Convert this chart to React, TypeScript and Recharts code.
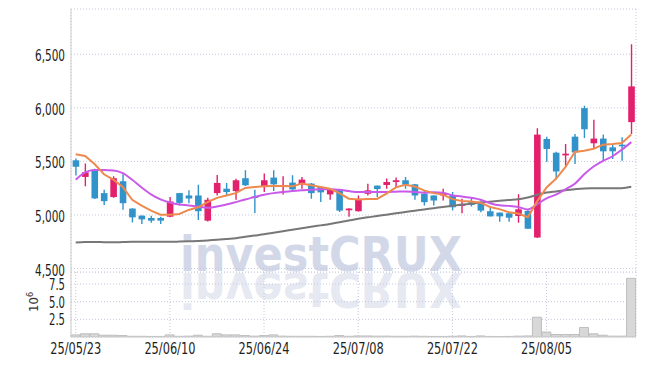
import { ComposedChart, Bar, Line, XAxis, YAxis, CartesianGrid } from "recharts";

const dates = [
  "25/05/23", "25/05/26", "25/05/27", "25/05/28", "25/05/29", "25/05/30",
  "25/06/02", "25/06/04", "25/06/05", "25/06/09", "25/06/10", "25/06/11",
  "25/06/12", "25/06/13", "25/06/16", "25/06/17", "25/06/18", "25/06/19",
  "25/06/20", "25/06/23", "25/06/24", "25/06/25", "25/06/26", "25/06/27",
  "25/06/30", "25/07/01", "25/07/02", "25/07/03", "25/07/04", "25/07/07",
  "25/07/08", "25/07/09", "25/07/10", "25/07/11", "25/07/14", "25/07/15",
  "25/07/16", "25/07/17", "25/07/18", "25/07/21", "25/07/22", "25/07/23",
  "25/07/24", "25/07/25", "25/07/28", "25/07/29", "25/07/30", "25/07/31",
  "25/08/01", "25/08/04", "25/08/05", "25/08/06", "25/08/07", "25/08/08",
  "25/08/11", "25/08/12", "25/08/13", "25/08/14", "25/08/18", "25/08/19",
];

const tickDates = ["25/05/23", "25/06/10", "25/06/24", "25/07/08", "25/07/22", "25/08/05"];

const opens = [
  5510, 5355, 5425, 5204, 5167, 5315, 5060, 4994, 4972, 4972,
  4984, 5204, 5182, 5182, 4947, 5204, 5245, 5223, 5343, 5173,
  5261, 5349, 5261, 5302, 5286, 5293, 5261, 5192, 5239, 5044,
  5035, 5198, 5274, 5280, 5308, 5324, 5286, 5198, 5182, 5182,
  5182, 5085, 5120, 5120, 5035, 5022, 5016, 4991, 5038, 4790,
  5709, 5581, 5556, 5731, 5997, 5669, 5713, 5631, 5656, 5866,
];
const highs = [
  5528, 5481, 5432, 5236, 5362, 5380, 5062, 4996, 4994, 4984,
  5167, 5206, 5230, 5283, 5160, 5374, 5299, 5337, 5418, 5236,
  5387, 5418, 5362, 5371, 5355, 5299, 5270, 5245, 5241, 5063,
  5182, 5292, 5276, 5340, 5349, 5355, 5288, 5230, 5184, 5245,
  5214, 5151, 5167, 5129, 5079, 5024, 5018, 5194, 5044, 5809,
  5731, 5591, 5663, 5756, 6019, 5888, 5750, 5653, 5725, 6594,
];
const lows = [
  5369, 5267, 5150, 5094, 5160, 5050, 4931, 4915, 4928, 4915,
  4980, 5088, 5110, 4953, 4940, 5182, 5176, 5142, 5270, 5019,
  5214, 5223, 5192, 5230, 5245, 5151, 5120, 5142, 5028, 4984,
  5033, 5182, 5167, 5245, 5261, 5245, 5142, 5088, 5088, 5135,
  5041, 5016, 5079, 5025, 4985, 4937, 4937, 4928, 4870, 4785,
  5497, 5334, 5459, 5475, 5719, 5625, 5500, 5522, 5506, 5756,
];
const closes = [
  5450, 5399, 5155, 5129, 5343, 5110, 4978, 4959, 4947, 4947,
  5126, 5113, 5154, 5035, 5142, 5299, 5214, 5324, 5277, 5164,
  5324, 5286, 5277, 5239, 5330, 5204, 5211, 5236, 5041, 5060,
  5151, 5230, 5242, 5308, 5324, 5283, 5182, 5120, 5135, 5204,
  5072, 5104, 5094, 5041, 4987, 4987, 4975, 5053, 4872, 5750,
  5616, 5406, 5572, 5584, 5800, 5713, 5594, 5594, 5641, 6200,
];

// volume in millions of shares
const volumes = [
  0.3, 0.45, 0.45, 0.25, 0.25, 0.2, 0.1, 0.1, 0.08, 0.08,
  0.3, 0.1, 0.12, 0.25, 0.1, 0.45, 0.3, 0.3, 0.2, 0.12,
  0.2, 0.3, 0.12, 0.1, 0.1, 0.1, 0.08, 0.1, 0.2, 0.1,
  0.15, 0.15, 0.12, 0.12, 0.1, 0.1, 0.12, 0.1, 0.08, 0.08,
  0.1, 0.15, 0.08, 0.15, 0.08, 0.06, 0.08, 0.12, 0.15, 2.8,
  0.7, 0.35, 0.35, 0.35, 1.35, 0.45, 0.25, 0.12, 0.12, 8.3,
];

const ma5 = [
  5566, 5550, 5475, 5380, 5330, 5261, 5142, 5088, 5041, 5003,
  5003, 5009, 5047, 5072, 5120, 5160, 5182, 5204, 5252, 5261,
  5267, 5270, 5270, 5267, 5293, 5277, 5261, 5245, 5204, 5152,
  5145, 5148, 5150, 5200, 5258, 5282, 5265, 5230, 5204, 5190,
  5148, 5131, 5126, 5115, 5075, 5055, 5026, 5014, 4979, 5127,
  5257, 5338, 5446, 5588, 5600, 5618, 5656, 5662, 5672, 5750,
];
const ma20 = [
  5329, 5397, 5420, 5420, 5416, 5391, 5329, 5257, 5193, 5146,
  5117, 5098, 5089, 5078, 5067, 5080, 5097, 5120, 5145, 5167,
  5189, 5204, 5214, 5223, 5230, 5236, 5239, 5239, 5236, 5223,
  5214, 5214, 5214, 5214, 5217, 5220, 5214, 5208, 5212, 5208,
  5182, 5173, 5160, 5142, 5110, 5090, 5085, 5075, 5052, 5100,
  5155, 5190, 5240, 5292, 5380, 5452, 5505, 5548, 5610, 5680,
];
const ma120 = [
  4743, 4747, 4748, 4746, 4745, 4748, 4750, 4750, 4750, 4750,
  4750, 4752, 4755, 4758, 4762, 4768, 4776, 4784, 4796, 4808,
  4820, 4834, 4848, 4862, 4876, 4890, 4903, 4916, 4932, 4948,
  4964, 4978, 4990, 5003, 5016, 5028, 5040, 5052, 5063, 5075,
  5086, 5096, 5106, 5116, 5124, 5132, 5140, 5147, 5163, 5188,
  5209, 5220, 5231, 5240, 5247, 5249, 5250, 5250, 5250, 5263,
];

const priceTicks = [4500, 5000, 5500, 6000, 6500];
const volumeTicks = [2.5, 5, 7.5];

const rows = dates.map((date, i) => ({
  date,
  open: opens[i],
  high: highs[i],
  low: lows[i],
  close: closes[i],
  range: [lows[i], highs[i]],
  vol: volumes[i],
  ma5: ma5[i],
  ma20: ma20[i],
  ma120: ma120[i],
}));

const RED = "#e2206b";
const BLUE = "#3193c9";
const FRAME = "#cfcfcf";
const GRID = "#c3c8dc";
const FONT = "'DejaVu Sans Condensed', 'DejaVu Sans', sans-serif";

const Candle = (props: any) => {
  const { x, y, width, height, payload } = props;
  if (!payload) return null;
  const { open, close, high, low } = payload;
  const top = Math.min(y, y + height);
  const h = Math.abs(height);
  const k = high === low ? 0 : h / (high - low);
  const yOf = (v: number) => top + (high - v) * k;
  const color = close >= open ? RED : BLUE;
  const cx = x + width / 2;
  const bodyTop = yOf(Math.max(open, close));
  const bodyH = Math.max(1.5, Math.abs(yOf(open) - yOf(close)));
  const bw = 6.6;
  return (
    <g>
      <line x1={cx} x2={cx} y1={top} y2={top + h} stroke={color} strokeWidth={1.4} />
      <rect x={cx - bw / 2} y={bodyTop} width={bw} height={bodyH} fill={color} />
    </g>
  );
};

const PriceTick = (props: any) => {
  const { x, y, payload } = props;
  return (
    <text x={x - 6} y={y + 7} textAnchor="end" fontFamily={FONT} fontSize={15} fill="#1e1e1e"
      textLength={30} lengthAdjust="spacingAndGlyphs">
      {payload.value.toLocaleString("en-US")}
    </text>
  );
};

const VolTick = (props: any) => {
  const { x, y, payload } = props;
  return (
    <text x={x - 6} y={y + 6} textAnchor="end" fontFamily={FONT} fontSize={15} fill="#1e1e1e"
      textLength={16} lengthAdjust="spacingAndGlyphs">
      {payload.value.toFixed(1)}
    </text>
  );
};

const DateTick = (props: any) => {
  const { x, y, payload } = props;
  return (
    <text x={x} y={y + 17} textAnchor="middle" fontFamily={FONT} fontSize={16} fill="#1e1e1e"
      textLength={51} lengthAdjust="spacingAndGlyphs">
      {payload.value}
    </text>
  );
};

export default function App() {
  return (
    <div style={{ position: "absolute", left: 0, top: 0, width: 645, height: 366, background: "#fff" }}>
      <svg width={645} height={366} style={{ position: "absolute", left: 0, top: 0 }}>
        <text x={180} y={271} fontFamily="'DejaVu Sans', sans-serif" fontWeight="bold" fontSize={48}
          fill="#d3d8e9" textLength={282} lengthAdjust="spacingAndGlyphs">
          investCRUX
        </text>
        <text x={180} y={271} transform="translate(0,544) scale(1,-1)" fontFamily="'DejaVu Sans', sans-serif"
          fontWeight="bold" fontSize={48} fill="#e6e9f1" textLength={282} lengthAdjust="spacingAndGlyphs">
          investCRUX
        </text>
        <text transform="translate(38,312) rotate(-90)" fontFamily={FONT} fontSize={13} fill="#333">
          10<tspan dy={-5} fontSize={9}>6</tspan>
        </text>
      </svg>

      <div style={{ position: "absolute", left: 0, top: 272 }}>
        <ComposedChart width={645} height={94} data={rows} barCategoryGap={0}
          margin={{ top: 0, right: 9, bottom: 0, left: 0 }}>
          <CartesianGrid stroke={GRID} strokeDasharray="1 2" />
          <XAxis dataKey="date" ticks={tickDates} interval={0} height={29} tickLine={false} tickSize={0} tickMargin={0}
            axisLine={{ stroke: FRAME }} tick={<DateTick />} />
          <XAxis xAxisId="t" dataKey="date" orientation="top" height={0} tick={false} tickLine={false}
            axisLine={{ stroke: FRAME }} />
          <YAxis domain={[0, 9.2]} ticks={volumeTicks} interval={0} width={71} allowDataOverflow tickLine={false}
            tickSize={0} tickMargin={0} axisLine={{ stroke: FRAME }} tick={<VolTick />} />
          <YAxis yAxisId="r" orientation="right" width={0} tick={false} tickLine={false} axisLine={{ stroke: FRAME }} />
          <Bar dataKey="vol" fill="#d8d8d8" stroke="#bdbdbd" strokeWidth={1} isAnimationActive={false} />
        </ComposedChart>
      </div>

      <div style={{ position: "absolute", left: 0, top: 0 }}>
        <ComposedChart width={645} height={284} data={rows} margin={{ top: 9, right: 9, bottom: 12, left: 0 }}>
          <CartesianGrid stroke={GRID} strokeDasharray="1 2" />
          <XAxis dataKey="date" orientation="top" height={0} ticks={tickDates} tick={false} tickLine={false}
            axisLine={{ stroke: FRAME }} />
          <YAxis domain={[4468, 6922]} ticks={priceTicks} interval={0} width={71} allowDataOverflow tickLine={false}
            tickSize={0} tickMargin={0} axisLine={{ stroke: FRAME }} tick={<PriceTick />} />
          <YAxis yAxisId="r" orientation="right" width={0} tick={false} tickLine={false} axisLine={{ stroke: FRAME }} />
          <Bar dataKey="range" shape={<Candle />} isAnimationActive={false} />
          <Line dataKey="ma120" stroke="#777777" strokeWidth={2} dot={false} type="monotone" isAnimationActive={false} />
          <Line dataKey="ma20" stroke="#c95ae9" strokeWidth={2} dot={false} type="monotone" isAnimationActive={false} />
          <Line dataKey="ma5" stroke="#ef8a4e" strokeWidth={2} dot={false} type="linear" isAnimationActive={false} />
        </ComposedChart>
      </div>
    </div>
  );
}
